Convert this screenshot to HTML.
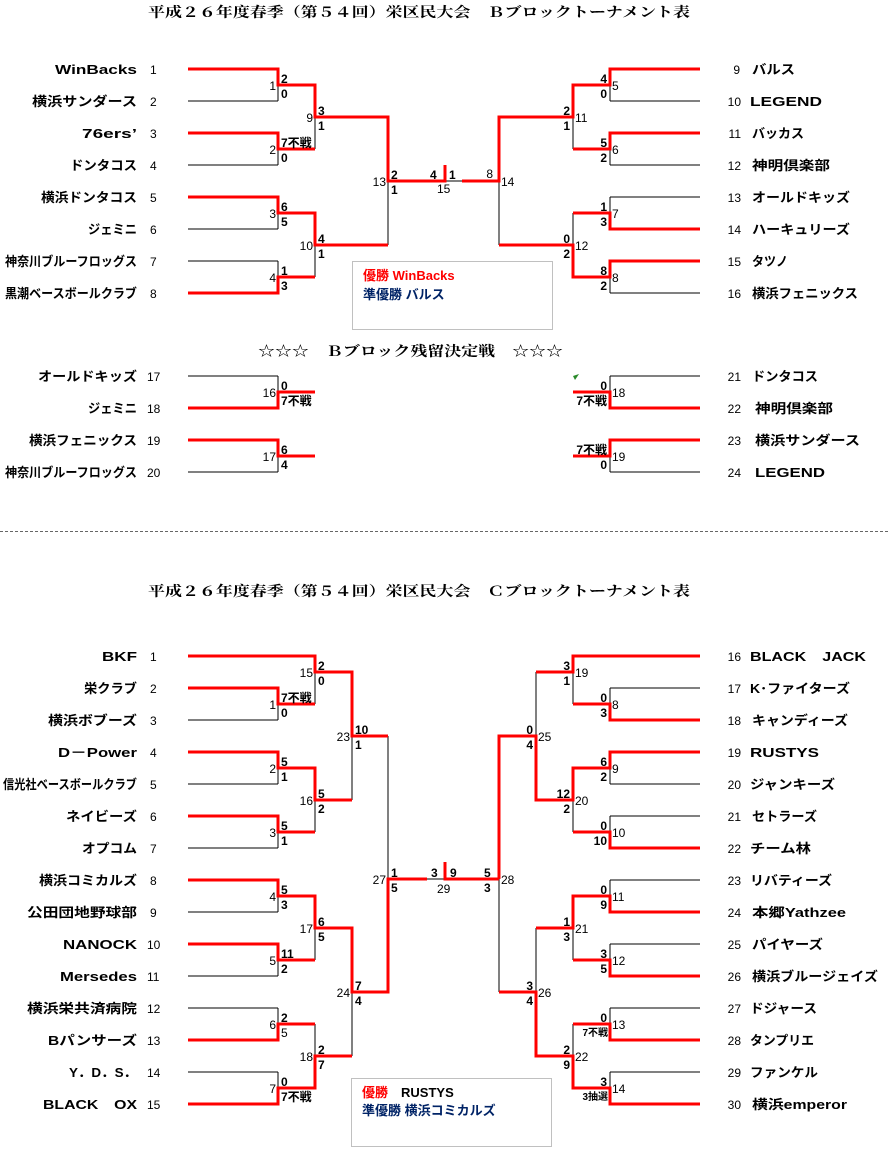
<!DOCTYPE html>
<html><head><meta charset="utf-8"><style>
html,body{margin:0;padding:0;background:#fff}
svg{display:block}
text{font-family:"Liberation Sans","Noto Sans CJK JP",sans-serif;fill:#000}
.nm{font-size:13px;font-weight:bold}
.no{font-size:12px}
.s{font-size:12px;font-weight:bold}
.ss{font-size:10px;font-weight:bold}
.t{font-family:"Liberation Serif","Noto Serif CJK SC",serif;font-size:14px;font-weight:bold}
.k{stroke:#000;stroke-width:1;fill:none}
.r{stroke:#f00;stroke-width:3;fill:none}
</style></head><body>
<svg width="889" height="1168" viewBox="0 0 889 1168" xmlns="http://www.w3.org/2000/svg">
<!-- titles -->
<text class="t" x="148" y="17" textLength="542" lengthAdjust="spacingAndGlyphs">平成２６年度春季（第５４回）栄区民大会　Ｂブロックトーナメント表</text>
<text class="t" x="258" y="356" textLength="305" lengthAdjust="spacingAndGlyphs">☆☆☆　Ｂブロック残留決定戦　☆☆☆</text>
<text class="t" x="148" y="596" textLength="542" lengthAdjust="spacingAndGlyphs">平成２６年度春季（第５４回）栄区民大会　Ｃブロックトーナメント表</text>
<line x1="0" y1="531.5" x2="889" y2="531.5" stroke="#666" stroke-width="1" stroke-dasharray="3,2"/>

<!-- ===== B block black lines ===== -->
<path class="k" d="M188 69H278M188 101H278M188 133H278M188 165H278M188 197H278M188 229H278M188 261H278M188 293H278
M278 69V101M278 133V165M278 197V229M278 261V293M315 85V149M315 213V277M388 117V245
M610 69H700M610 101H700M610 133H700M610 165H700M610 197H700M610 229H700M610 261H700M610 293H700
M610 69V101M610 133V165M610 197V229M610 261V293M573 85V149M573 213V277M499 117V245M445 181H462"/>
<path class="r" d="M188 69H278V85H315V117H388V181H445V165"/>
<path class="r" d="M188 133H278V149H315"/>
<path class="r" d="M188 197H278V213H315V245H388"/>
<path class="r" d="M188 293H278V277H315"/>
<path class="r" d="M462 181H499V117H573V85H610V69H700"/>
<path class="r" d="M573 149H610V133H700"/>
<path class="r" d="M499 245H573V277H610V261H700"/>
<path class="r" d="M573 213H610V229H700"/>

<!-- B lower -->
<path class="k" d="M188 376H278M188 408H278M188 440H278M188 472H278M278 376V408M278 440V472
M610 376H700M610 408H700M610 440H700M610 472H700M610 376V408M610 440V472"/>
<path class="r" d="M188 408H278V392H315"/>
<path class="r" d="M188 440H278V456H315"/>
<path class="r" d="M700 408H610V392H573"/>
<path class="r" d="M700 440H610V456H573"/>
<polygon points="573,376 579,374 575,380" fill="#2a8a2a"/>

<!-- B left names -->
<g class="nm" text-anchor="start">
<text x="55" y="74" textLength="82" lengthAdjust="spacingAndGlyphs">WinBacks</text>
<text x="32" y="106" textLength="105" lengthAdjust="spacingAndGlyphs">横浜サンダース</text>
<text x="82" y="138" textLength="55" lengthAdjust="spacingAndGlyphs">76ers’</text>
<text x="70" y="170" textLength="67" lengthAdjust="spacingAndGlyphs">ドンタコス</text>
<text x="41" y="202" textLength="96" lengthAdjust="spacingAndGlyphs">横浜ドンタコス</text>
<text x="88" y="234" textLength="49" lengthAdjust="spacingAndGlyphs">ジェミニ</text>
<text x="5" y="266" textLength="132" lengthAdjust="spacingAndGlyphs">神奈川ブルーフロッグス</text>
<text x="5" y="298" textLength="132" lengthAdjust="spacingAndGlyphs">黒潮ベースボールクラブ</text>
<text x="38" y="381" textLength="99" lengthAdjust="spacingAndGlyphs">オールドキッズ</text>
<text x="88" y="413" textLength="49" lengthAdjust="spacingAndGlyphs">ジェミニ</text>
<text x="29" y="445" textLength="108" lengthAdjust="spacingAndGlyphs">横浜フェニックス</text>
<text x="5" y="477" textLength="132" lengthAdjust="spacingAndGlyphs">神奈川ブルーフロッグス</text>
</g>
<g class="no">
<text x="150" y="74">1</text><text x="150" y="106">2</text><text x="150" y="138">3</text><text x="150" y="170">4</text>
<text x="150" y="202">5</text><text x="150" y="234">6</text><text x="150" y="266">7</text><text x="150" y="298">8</text>
<text x="147" y="381">17</text><text x="147" y="413">18</text><text x="147" y="445">19</text><text x="147" y="477">20</text>
</g>
<!-- B right names -->
<g class="no" text-anchor="end">
<text x="740" y="74">9</text><text x="741" y="106">10</text><text x="741" y="138">11</text><text x="741" y="170">12</text>
<text x="741" y="202">13</text><text x="741" y="234">14</text><text x="741" y="266">15</text><text x="741" y="298">16</text>
<text x="741" y="381">21</text><text x="741" y="413">22</text><text x="741" y="445">23</text><text x="741" y="477">24</text>
</g>
<g class="nm">
<text x="752" y="74" textLength="43" lengthAdjust="spacingAndGlyphs">バルス</text>
<text x="750" y="106" textLength="72" lengthAdjust="spacingAndGlyphs">LEGEND</text>
<text x="752" y="138" textLength="52" lengthAdjust="spacingAndGlyphs">バッカス</text>
<text x="752" y="170" textLength="78" lengthAdjust="spacingAndGlyphs">神明倶楽部</text>
<text x="752" y="202" textLength="98" lengthAdjust="spacingAndGlyphs">オールドキッズ</text>
<text x="752" y="234" textLength="98" lengthAdjust="spacingAndGlyphs">ハーキュリーズ</text>
<text x="752" y="266" textLength="36" lengthAdjust="spacingAndGlyphs">タツノ</text>
<text x="752" y="298" textLength="106" lengthAdjust="spacingAndGlyphs">横浜フェニックス</text>
<text x="752" y="381" textLength="66" lengthAdjust="spacingAndGlyphs">ドンタコス</text>
<text x="755" y="413" textLength="78" lengthAdjust="spacingAndGlyphs">神明倶楽部</text>
<text x="755" y="445" textLength="105" lengthAdjust="spacingAndGlyphs">横浜サンダース</text>
<text x="755" y="477" textLength="70" lengthAdjust="spacingAndGlyphs">LEGEND</text>
</g>

<!-- B scores left -->
<g class="no" text-anchor="end">
<text x="276" y="90">1</text><text x="276" y="154">2</text><text x="276" y="218">3</text><text x="276" y="282">4</text>
<text x="313" y="122">9</text><text x="313" y="250">10</text><text x="386" y="186">13</text>
<text x="276" y="397">16</text><text x="276" y="461">17</text>
</g>
<g class="s">
<text x="281" y="83">2</text><text x="281" y="98">0</text>
<text x="281" y="147">7不戦</text><text x="281" y="162">0</text>
<text x="281" y="211">6</text><text x="281" y="226">5</text>
<text x="281" y="275">1</text><text x="281" y="290">3</text>
<text x="318" y="115">3</text><text x="318" y="130">1</text>
<text x="318" y="243">4</text><text x="318" y="258">1</text>
<text x="391" y="179">2</text><text x="391" y="194">1</text>
<text x="430" y="179">4</text><text x="449" y="179">1</text>
<text x="281" y="390">0</text><text x="281" y="405">7不戦</text>
<text x="281" y="454">6</text><text x="281" y="469">4</text>
</g>
<text class="no" x="437" y="193">15</text>
<text class="no" x="493" y="178" text-anchor="end">8</text>
<!-- B scores right -->
<g class="s" text-anchor="end">
<text x="607" y="83">4</text><text x="607" y="98">0</text>
<text x="607" y="147">5</text><text x="607" y="162">2</text>
<text x="607" y="211">1</text><text x="607" y="226">3</text>
<text x="607" y="275">8</text><text x="607" y="290">2</text>
<text x="570" y="115">2</text><text x="570" y="130">1</text>
<text x="570" y="243">0</text><text x="570" y="258">2</text>
<text x="607" y="390">0</text><text x="607" y="405">7不戦</text>
<text x="607" y="454">7不戦</text><text x="607" y="469">0</text>
</g>
<g class="no">
<text x="612" y="90">5</text><text x="612" y="154">6</text><text x="612" y="218">7</text><text x="612" y="282">8</text>
<text x="575" y="122">11</text><text x="575" y="250">12</text><text x="501" y="186">14</text>
<text x="612" y="397">18</text><text x="612" y="461">19</text>
</g>

<!-- B legend -->
<rect x="352.5" y="261.5" width="200" height="68" fill="none" stroke="#c0c0c0"/>
<text class="nm" x="363" y="280" style="fill:#f00">優勝 WinBacks</text>
<text class="nm" x="363" y="299" style="fill:#002366">準優勝 バルス</text>

<!-- ===== C block ===== -->
<path class="k" d="M188 720H278M188 784H278M188 848H278M188 912H278M188 976H278M188 1008H278M188 1072H278
M278 688V720M278 752V784M278 816V848M278 880V912M278 944V976M278 1008V1040M278 1072V1104
M315 656V704M315 768V832M315 896V960M315 1024V1088M352 672V800M352 928V1056M388 736V992M427 879H445
M610 688H700M610 784H700M610 816H700M610 880H700M610 944H700M610 1008H700M610 1072H700
M610 688V720M610 752V784M610 816V848M610 880V912M610 944V976M610 1008V1040M610 1072V1104
M573 656V704M573 768V832M573 896V960M573 1024V1088M536 672V800M536 928V1056M499 736V992"/>
<path class="r" d="M188 656H315V672H352V736H388"/>
<path class="r" d="M188 688H278V704H315"/>
<path class="r" d="M188 752H278V768H315V800H352"/>
<path class="r" d="M188 816H278V832H315"/>
<path class="r" d="M188 880H278V896H315V928H352V992H388V879H427"/>
<path class="r" d="M188 944H278V960H315"/>
<path class="r" d="M188 1040H278V1024H315"/>
<path class="r" d="M188 1104H278V1088H315V1056H352"/>
<path class="r" d="M445 862V879H499"/>
<path class="r" d="M700 656H573V672H536"/>
<path class="r" d="M700 720H610V704H573"/>
<path class="r" d="M700 752H610V768H573V800H536V736H499V879"/>
<path class="r" d="M700 848H610V832H573"/>
<path class="r" d="M700 912H610V896H573V928H536"/>
<path class="r" d="M700 976H610V960H573"/>
<path class="r" d="M700 1040H610V1024H573"/>
<path class="r" d="M700 1104H610V1088H573V1056H536V992H499"/>

<!-- C left names -->
<g class="nm">
<text x="102" y="661" textLength="35" lengthAdjust="spacingAndGlyphs">BKF</text>
<text x="84" y="693" textLength="53" lengthAdjust="spacingAndGlyphs">栄クラブ</text>
<text x="48" y="725" textLength="89" lengthAdjust="spacingAndGlyphs">横浜ボブーズ</text>
<text x="58" y="757" textLength="79" lengthAdjust="spacingAndGlyphs">D－Power</text>
<text x="3" y="789" textLength="134" lengthAdjust="spacingAndGlyphs">信光社ベースボールクラブ</text>
<text x="66" y="821" textLength="71" lengthAdjust="spacingAndGlyphs">ネイビーズ</text>
<text x="82" y="853" textLength="55" lengthAdjust="spacingAndGlyphs">オプコム</text>
<text x="39" y="885" textLength="98" lengthAdjust="spacingAndGlyphs">横浜コミカルズ</text>
<text x="27" y="917" textLength="110" lengthAdjust="spacingAndGlyphs">公田団地野球部</text>
<text x="63" y="949" textLength="74" lengthAdjust="spacingAndGlyphs">NANOCK</text>
<text x="60" y="981" textLength="77" lengthAdjust="spacingAndGlyphs">Mersedes</text>
<text x="27" y="1013" textLength="110" lengthAdjust="spacingAndGlyphs">横浜栄共済病院</text>
<text x="48" y="1045" textLength="89" lengthAdjust="spacingAndGlyphs">Bパンサーズ</text>
<text x="69" y="1077" textLength="68" lengthAdjust="spacingAndGlyphs">Y．D．S．</text>
<text x="43" y="1109" textLength="94" lengthAdjust="spacingAndGlyphs">BLACK　OX</text>
</g>
<g class="no">
<text x="150" y="661">1</text><text x="150" y="693">2</text><text x="150" y="725">3</text><text x="150" y="757">4</text>
<text x="150" y="789">5</text><text x="150" y="821">6</text><text x="150" y="853">7</text><text x="150" y="885">8</text>
<text x="150" y="917">9</text><text x="147" y="949">10</text><text x="147" y="981">11</text><text x="147" y="1013">12</text>
<text x="147" y="1045">13</text><text x="147" y="1077">14</text><text x="147" y="1109">15</text>
</g>
<!-- C right names -->
<g class="no" text-anchor="end">
<text x="741" y="661">16</text><text x="741" y="693">17</text><text x="741" y="725">18</text><text x="741" y="757">19</text>
<text x="741" y="789">20</text><text x="741" y="821">21</text><text x="741" y="853">22</text><text x="741" y="885">23</text>
<text x="741" y="917">24</text><text x="741" y="949">25</text><text x="741" y="981">26</text><text x="741" y="1013">27</text>
<text x="741" y="1045">28</text><text x="741" y="1077">29</text><text x="741" y="1109">30</text>
</g>
<g class="nm">
<text x="750" y="661" textLength="116" lengthAdjust="spacingAndGlyphs">BLACK　JACK</text>
<text x="750" y="693" textLength="100" lengthAdjust="spacingAndGlyphs">K･ファイターズ</text>
<text x="752" y="725" textLength="96" lengthAdjust="spacingAndGlyphs">キャンディーズ</text>
<text x="750" y="757" textLength="69" lengthAdjust="spacingAndGlyphs">RUSTYS</text>
<text x="750" y="789" textLength="85" lengthAdjust="spacingAndGlyphs">ジャンキーズ</text>
<text x="752" y="821" textLength="65" lengthAdjust="spacingAndGlyphs">セトラーズ</text>
<text x="750" y="853" textLength="61" lengthAdjust="spacingAndGlyphs">チーム林</text>
<text x="750" y="885" textLength="82" lengthAdjust="spacingAndGlyphs">リバティーズ</text>
<text x="752" y="917" textLength="94" lengthAdjust="spacingAndGlyphs">本郷Yathzee</text>
<text x="752" y="949" textLength="71" lengthAdjust="spacingAndGlyphs">パイヤーズ</text>
<text x="752" y="981" textLength="126" lengthAdjust="spacingAndGlyphs">横浜ブルージェイズ</text>
<text x="750" y="1013" textLength="67" lengthAdjust="spacingAndGlyphs">ドジャース</text>
<text x="750" y="1045" textLength="64" lengthAdjust="spacingAndGlyphs">タンプリエ</text>
<text x="750" y="1077" textLength="68" lengthAdjust="spacingAndGlyphs">ファンケル</text>
<text x="752" y="1109" textLength="95" lengthAdjust="spacingAndGlyphs">横浜emperor</text>
</g>

<!-- C left scores -->
<g class="no" text-anchor="end">
<text x="276" y="709">1</text><text x="276" y="773">2</text><text x="276" y="837">3</text><text x="276" y="901">4</text>
<text x="276" y="965">5</text><text x="276" y="1029">6</text><text x="276" y="1093">7</text>
<text x="313" y="677">15</text><text x="313" y="805">16</text><text x="313" y="933">17</text><text x="313" y="1061">18</text>
<text x="350" y="741">23</text><text x="350" y="997">24</text><text x="386" y="884">27</text>
</g>
<g class="s">
<text x="281" y="702">7不戦</text><text x="281" y="717">0</text>
<text x="281" y="766">5</text><text x="281" y="781">1</text>
<text x="281" y="830">5</text><text x="281" y="845">1</text>
<text x="281" y="894">5</text><text x="281" y="909">3</text>
<text x="281" y="958">11</text><text x="281" y="973">2</text>
<text x="281" y="1022">2</text><text x="281" y="1037" style="font-weight:normal">5</text>
<text x="281" y="1086">0</text><text x="281" y="1101">7不戦</text>
<text x="318" y="670">2</text><text x="318" y="685">0</text>
<text x="318" y="798">5</text><text x="318" y="813">2</text>
<text x="318" y="926">6</text><text x="318" y="941">5</text>
<text x="318" y="1054">2</text><text x="318" y="1069">7</text>
<text x="355" y="734">10</text><text x="355" y="749">1</text>
<text x="355" y="990">7</text><text x="355" y="1005">4</text>
<text x="391" y="877">1</text><text x="391" y="892">5</text>
<text x="431" y="877">3</text><text x="450" y="877">9</text>
<text x="484" y="877">5</text><text x="484" y="892">3</text>
</g>
<text class="no" x="437" y="893">29</text>
<!-- C right scores -->
<g class="s" text-anchor="end">
<text x="607" y="702">0</text><text x="607" y="717">3</text>
<text x="607" y="766">6</text><text x="607" y="781">2</text>
<text x="607" y="830">0</text><text x="607" y="845">10</text>
<text x="607" y="894">0</text><text x="607" y="909">9</text>
<text x="607" y="958">3</text><text x="607" y="973">5</text>
<text x="607" y="1022">0</text><text class="ss" x="608" y="1036">7不戦</text>
<text x="607" y="1086">3</text><text class="ss" x="608" y="1100">3抽選</text>
<text x="570" y="670">3</text><text x="570" y="685">1</text>
<text x="570" y="798">12</text><text x="570" y="813">2</text>
<text x="570" y="926">1</text><text x="570" y="941">3</text>
<text x="570" y="1054">2</text><text x="570" y="1069">9</text>
<text x="533" y="734">0</text><text x="533" y="749">4</text>
<text x="533" y="990">3</text><text x="533" y="1005">4</text>
</g>
<g class="no">
<text x="612" y="709">8</text><text x="612" y="773">9</text><text x="612" y="837">10</text><text x="612" y="901">11</text>
<text x="612" y="965">12</text><text x="612" y="1029">13</text><text x="612" y="1093">14</text>
<text x="575" y="677">19</text><text x="575" y="805">20</text><text x="575" y="933">21</text><text x="575" y="1061">22</text>
<text x="538" y="741">25</text><text x="538" y="997">26</text><text x="501" y="884">28</text>
</g>

<!-- C legend -->
<rect x="351.5" y="1078.5" width="200" height="68" fill="none" stroke="#c0c0c0"/>
<text class="nm" x="362" y="1097"><tspan style="fill:#f00">優勝</tspan>　RUSTYS</text>
<text class="nm" x="362" y="1115" style="fill:#002366">準優勝 横浜コミカルズ</text>
</svg>
</body></html>
